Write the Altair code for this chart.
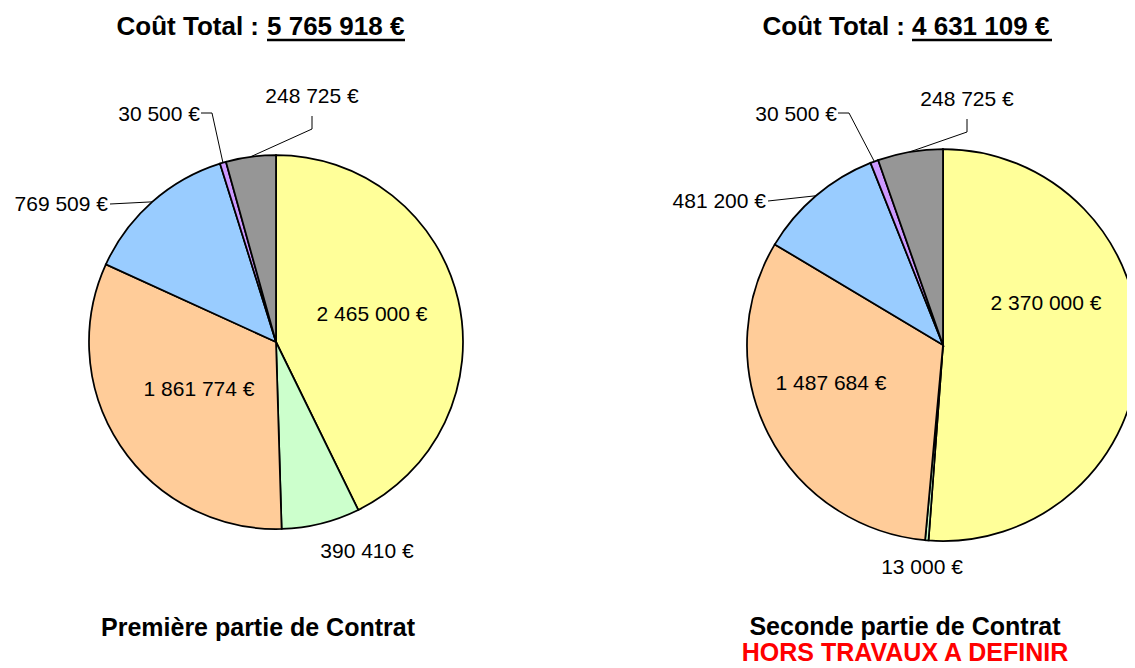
import math
import altair as alt
import pandas as pd

# ---------------- data ----------------
categories = ["Poste 1", "Poste 2", "Poste 3", "Poste 4", "Poste 5", "Poste 6"]
values_part1 = [2465000, 390410, 1861774, 769509, 30500, 248725]
values_part2 = [2370000, 13000, 1487684, 481200, 30500, 248725]
slice_colors = ["#FFFF99", "#CCFFCC", "#FFCC99", "#99CCFF", "#CC99FF", "#969696"]
title_prefix = "Coût Total :"
subtitles = ["Première partie de Contrat", "Seconde partie de Contrat"]
note_text = "HORS TRAVAUX A DEFINIR"

# ---------------- layout (screen pixels) ----------------
W, H = 1119, 659
OFF = 8
TXT_DY = 2  # text baseline correction
FONT = "Liberation Sans"
pies_layout = [
    dict(cx=276, cy=342, r=187,
         label_dx=[96, 91, -77, -168, -76, 36],
         label_dy=[-29, 208, 46, -139, -229, -247],
         leader=[None, None, None, "straight", "hook_h", "hook_v"],
         title_end=259, num_start=267, num_end=405, title_y=25, ul_y=40,
         sub_x=258, sub_y=626),
    dict(cx=943, cy=345, r=196,
         label_dx=[103, -21, -112, -177, -106, 24],
         label_dy=[-43, 221, 37, -145, -232, -247],
         leader=[None, None, None, "straight", "hook_h", "hook_v"],
         title_end=905, num_start=912, num_end=1052, title_y=25, ul_y=40,
         sub_x=905, sub_y=625),
]


def fmt(v):
    return f"{v:,}".replace(",", " ") + " €"


arc_rows, lab_c, lab_r, line_rows, title_l, title_r, rules = [], [], [], [], [], [], []
for p, (vals, lay) in enumerate(zip([values_part1, values_part2], pies_layout)):
    total = sum(vals)
    cx, cy, r = lay["cx"], lay["cy"], lay["r"]
    acc = 0.0
    for i, (cat, v) in enumerate(zip(categories, vals)):
        t0 = acc / total * 2 * math.pi
        acc += v
        t1 = acc / total * 2 * math.pi
        arc_rows.append(dict(pie=p, cat=cat, t0=t0, t1=t1, x=cx - OFF, y=cy - OFF,
                             r=r, fill=slice_colors[i]))
        mid = (t0 + t1) / 2
        ex, ey = cx + r * math.sin(mid), cy - r * math.cos(mid)
        lx, ly = cx + lay["label_dx"][i], cy + lay["label_dy"][i]
        kind = lay["leader"][i]
        row = dict(x=lx - OFF, y=ly - OFF + TXT_DY, text=fmt(v))
        if kind in ("straight", "hook_h"):
            lab_r.append(row)
        else:
            lab_c.append(row)
        if kind == "straight":
            pts = [(lx + 2, ly + 1), (ex, ey)]
        elif kind == "hook_h":
            pts = [(lx + 1, ly), (lx + 12, ly), (ex, ey)]
        elif kind == "hook_v":
            pts = [(lx, ly + 21), (lx, ly + 34), (ex, ey)]
        else:
            pts = []
        for k, (px, py) in enumerate(pts):
            line_rows.append(dict(lid=f"{p}-{i}", k=k, x=px - OFF, y=py - OFF))
    title_r.append(dict(x=lay["title_end"] - OFF, y=lay["title_y"] - OFF + TXT_DY, text=title_prefix))
    title_l.append(dict(x=lay["num_start"] - OFF, y=lay["title_y"] - OFF + TXT_DY, text=fmt(total)))
    rules.append(dict(x=lay["num_start"] - OFF, x2=lay["num_end"] - OFF, y=lay["ul_y"] - OFF))

subs = [dict(x=lay["sub_x"] - OFF, y=lay["sub_y"] - OFF + TXT_DY, text=s, color="#000000")
        for lay, s in zip(pies_layout, subtitles)]
subs.append(dict(x=pies_layout[1]["sub_x"] - OFF, y=651 - OFF + TXT_DY, text=note_text, color="#FF0000"))

X = lambda f="x": alt.X(f"{f}:Q", scale=None, axis=None)
Y = lambda f="y": alt.Y(f"{f}:Q", scale=None, axis=None)

arcs = alt.Chart(pd.DataFrame(arc_rows)).mark_arc(stroke="black", strokeWidth=1.75).encode(
    theta=alt.Theta("t0:Q", scale=None), theta2="t1:Q",
    x=X(), y=Y(),
    radius=alt.Radius("r:Q", scale=None),
    color=alt.Color("fill:N", scale=None),
)

leaders = alt.Chart(pd.DataFrame(line_rows)).mark_line(color="black", strokeWidth=1).encode(
    x=X(), y=Y(), detail="lid:N", order="k:Q")

labels_c = alt.Chart(pd.DataFrame(lab_c)).mark_text(
    font=FONT, fontSize=21, align="center", baseline="middle", color="black").encode(
    x=X(), y=Y(), text="text:N")
labels_r = alt.Chart(pd.DataFrame(lab_r)).mark_text(
    font=FONT, fontSize=21, align="right", baseline="middle", color="black").encode(
    x=X(), y=Y(), text="text:N")

t_pre = alt.Chart(pd.DataFrame(title_r)).mark_text(
    font=FONT, fontSize=26, fontWeight="bold", align="right", baseline="middle", color="black").encode(
    x=X(), y=Y(), text="text:N")
t_num = alt.Chart(pd.DataFrame(title_l)).mark_text(
    font=FONT, fontSize=26, fontWeight="bold", align="left", baseline="middle", color="black").encode(
    x=X(), y=Y(), text="text:N")
underline = alt.Chart(pd.DataFrame(rules)).mark_rule(color="black", strokeWidth=2.5).encode(
    x=X(), x2="x2:Q", y=Y())

sub_text = alt.Chart(pd.DataFrame(subs)).mark_text(
    font=FONT, fontSize=25, fontWeight="bold", align="center", baseline="middle").encode(
    x=X(), y=Y(), text="text:N", color=alt.Color("color:N", scale=None))

chart = alt.layer(arcs, leaders, labels_c, labels_r, t_pre, t_num, underline, sub_text).properties(
    width=W, height=H, padding=0, autosize="none", background="white"
).configure_view(stroke=None)

chart.save("out.html", embed_options={"renderer": "svg", "actions": False})
